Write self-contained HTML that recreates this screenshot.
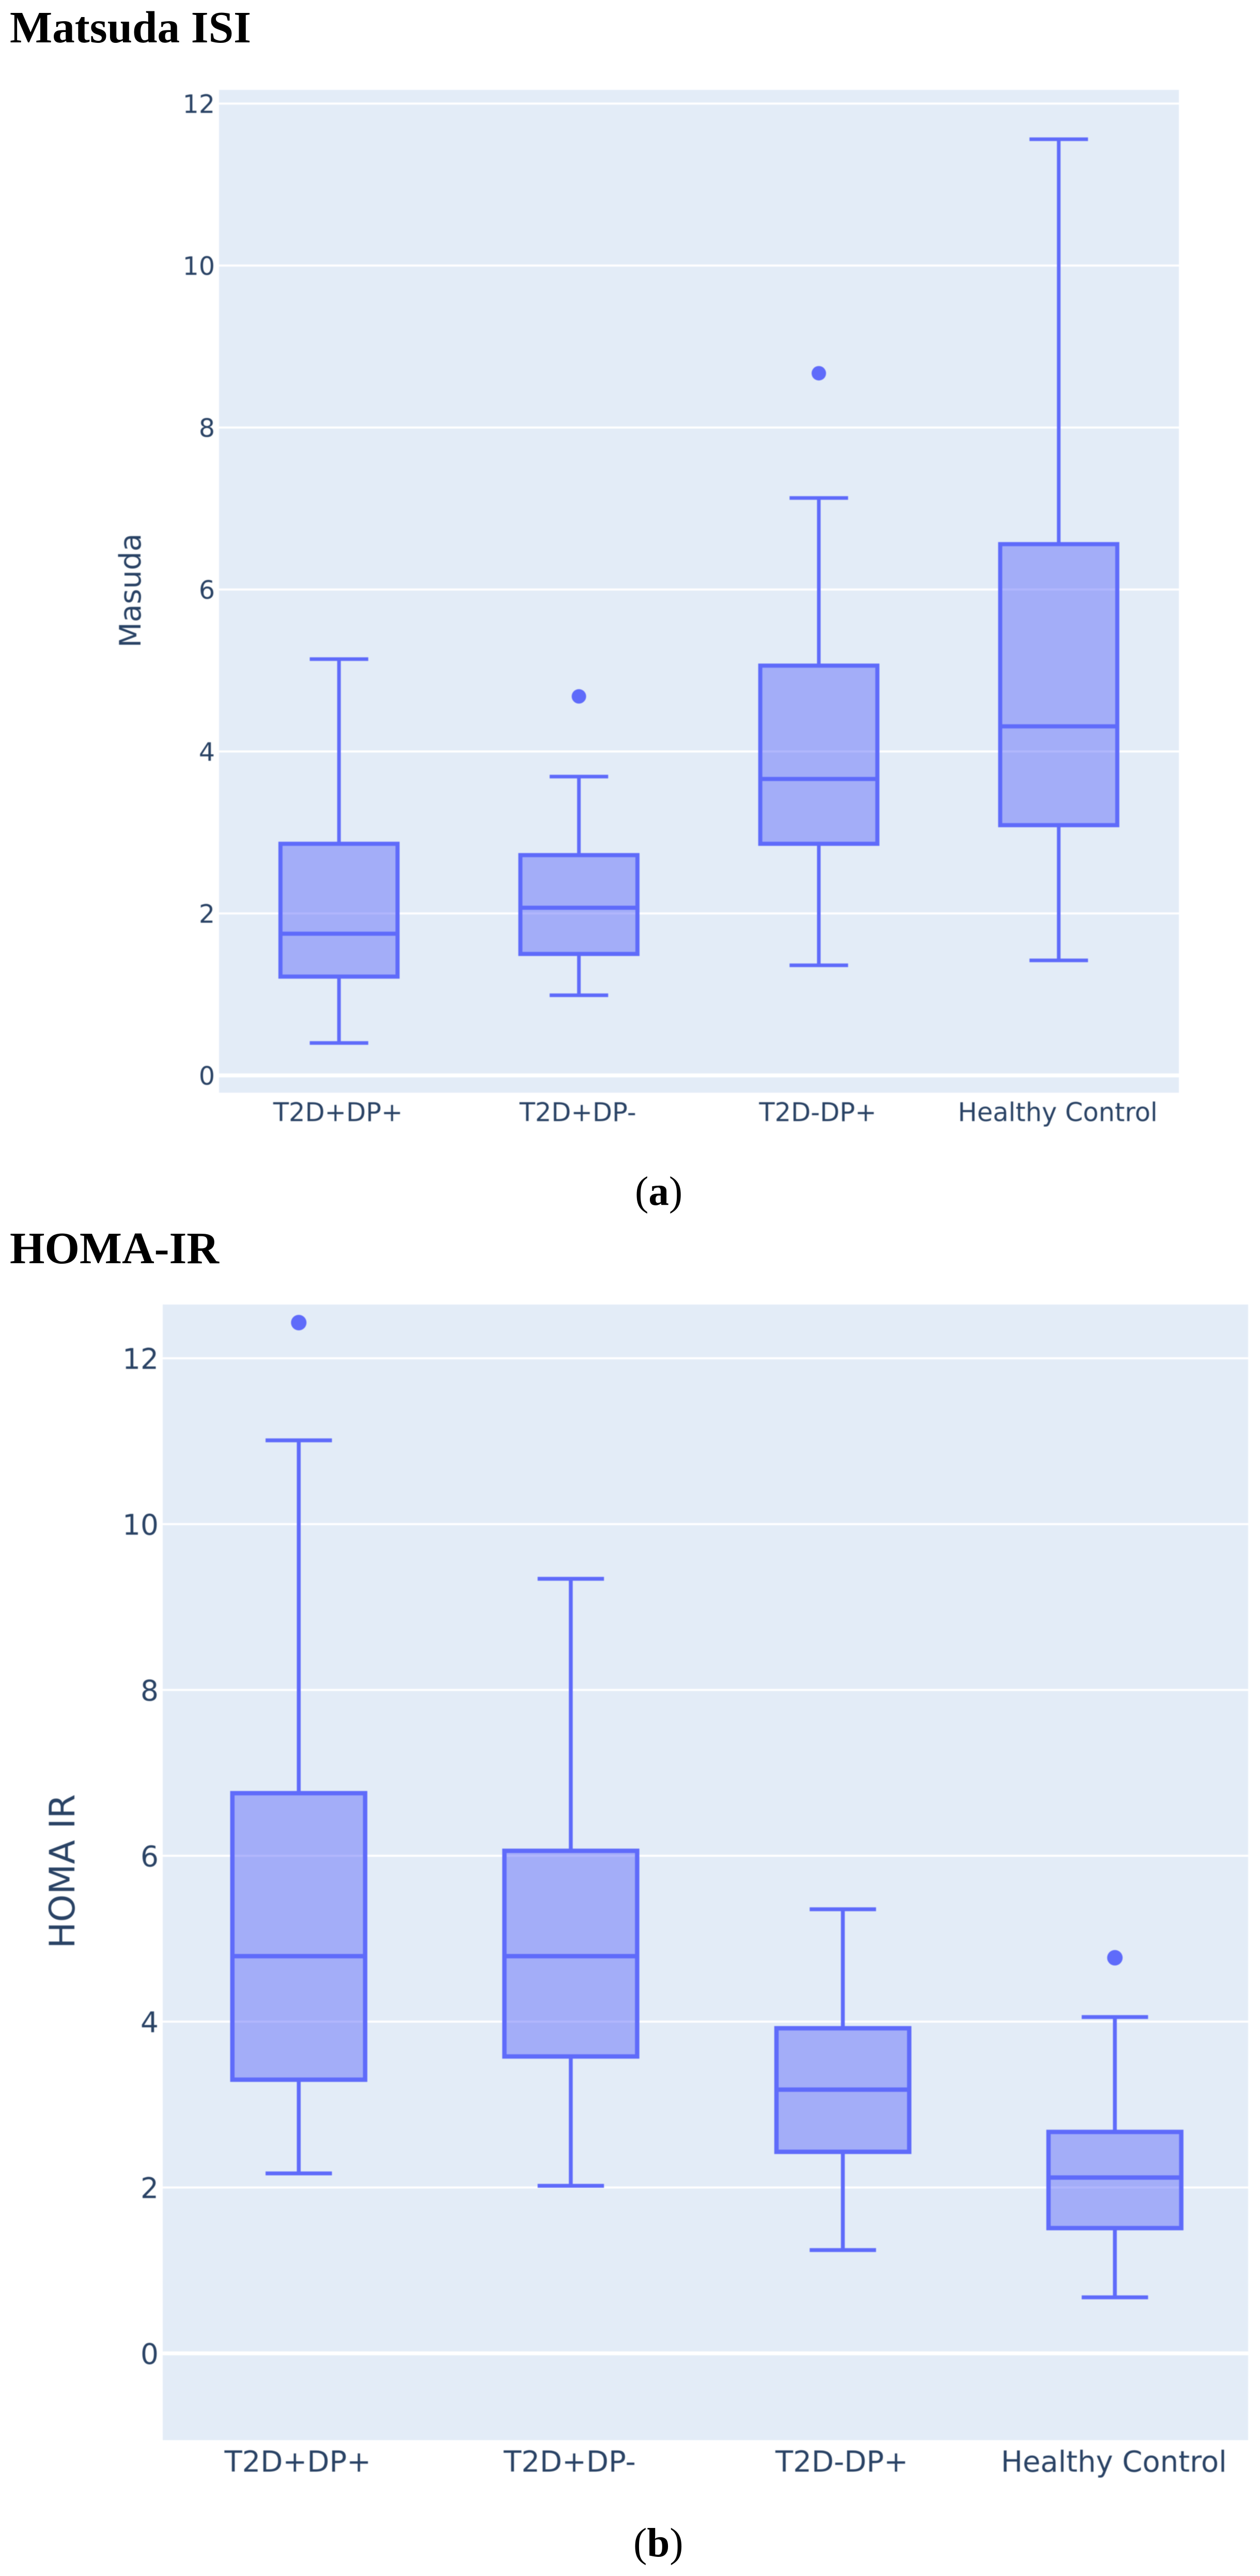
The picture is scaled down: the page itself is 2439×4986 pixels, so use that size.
<!DOCTYPE html>
<html lang="en">
<head>
<meta charset="utf-8">
<title>Matsuda ISI and HOMA-IR box plots</title>
<style>
html,body{margin:0;padding:0;background:#fff;width:2439px;height:4986px;overflow:hidden}
svg{display:block}
.serif{font-family:"Liberation Serif",serif;fill:#000}
.sans{font-family:"DejaVu Sans","Liberation Sans",sans-serif;fill:#2a4365}
.soft{filter:blur(0.7px)}
</style>
</head>
<body>
<svg id="figure" xmlns="http://www.w3.org/2000/svg" width="2439" height="4986" viewBox="0 0 2439 4986">
  <rect x="0" y="0" width="2439" height="4986" fill="#ffffff"/>
  <text class="serif" x="19" y="82" font-size="87" font-weight="700" textLength="467" lengthAdjust="spacingAndGlyphs">Matsuda ISI</text>
  <g id="chart-a" class="soft"></g>
  <text class="serif" x="1229" y="2332" font-size="79">(<tspan font-weight="700">a</tspan>)</text>
  <text class="serif" x="19" y="2445" font-size="87" font-weight="700" textLength="405" lengthAdjust="spacingAndGlyphs">HOMA-IR</text>
  <g id="chart-b" class="soft"></g>
  <text class="serif" x="1226" y="4948" font-size="79">(<tspan font-weight="700">b</tspan>)</text>
</svg>
<script>
var categories = ["T2D+DP+", "T2D+DP-", "T2D-DP+", "Healthy Control"];
var yTicks = [0, 2, 4, 6, 8, 10, 12];

var matsudaLow = [0.40, 0.99, 1.36, 1.42];
var matsudaQ1 = [1.22, 1.50, 2.86, 3.09];
var matsudaMedian = [1.75, 2.07, 3.66, 4.31];
var matsudaQ3 = [2.86, 2.72, 5.06, 6.56];
var matsudaHigh = [5.14, 3.69, 7.13, 11.56];
var matsudaOutliers = [null, 4.68, 8.67, null];

var homaLow = [2.17, 2.02, 1.245, 0.675];
var homaQ1 = [3.30, 3.58, 2.43, 1.51];
var homaMedian = [4.79, 4.79, 3.18, 2.12];
var homaQ3 = [6.755, 6.06, 3.92, 2.67];
var homaHigh = [11.01, 9.34, 5.355, 4.055];
var homaOutliers = [12.43, null, null, 4.77];

var SVG_NS = "http://www.w3.org/2000/svg";

function make(parent, tag, props) {
  var node = document.createElementNS(SVG_NS, tag);
  for (var key in props) {
    node.setAttribute(key, props[key]);
  }
  parent.appendChild(node);
  return node;
}

function slug(text) {
  return text.toLowerCase().replace(/\+/g, "-plus").replace(/-$/, "-minus").replace(/[^a-z0-9]+/g, "-");
}

function drawChart(root, layout, series) {
  function xScale(index) {
    return layout.left + (index + 0.5) * layout.step;
  }
  function yScale(value) {
    return layout.zeroY - value * layout.unit;
  }

  var plot = make(root, "rect", {
    x: layout.left, y: layout.top,
    width: layout.right - layout.left, height: layout.bottom - layout.top,
    fill: "#e3ecf7"
  });
  
  

  yTicks.forEach(function (tick) {
    var grid = make(root, "line", {
      x1: layout.left, x2: layout.right, y1: yScale(tick), y2: yScale(tick),
      stroke: "#ffffff", "stroke-width": tick === 0 ? 7.5 : 4
    });
    
    

    var label = make(root, "text", {
      x: layout.tickRight, y: yScale(tick) + layout.tickFont * 0.37,
      "text-anchor": "end", "font-size": layout.tickFont, "class": "sans"
    });
    label.textContent = String(tick);
    
    
  });

  categories.forEach(function (category, i) {
    var label = make(root, "text", {
      x: xScale(i) - 2, y: layout.xLabelY,
      "text-anchor": "middle", "font-size": layout.xFont, "class": "sans"
    });
    label.textContent = category;
    
    

    var group = make(root, "g", {});
    
    

    var cx = xScale(i);
    var halfBox = layout.step * 0.244;
    var halfCap = layout.step * 0.122;

    var upperWhisker = make(group, "line", {
      x1: cx, x2: cx, y1: yScale(series.q3[i]), y2: yScale(series.high[i]),
      stroke: "#5f6bfa", "stroke-width": layout.line
    });
    
    

    var lowerWhisker = make(group, "line", {
      x1: cx, x2: cx, y1: yScale(series.q1[i]), y2: yScale(series.low[i]),
      stroke: "#5f6bfa", "stroke-width": layout.line
    });
    
    

    var upperCap = make(group, "line", {
      x1: cx - halfCap, x2: cx + halfCap, y1: yScale(series.high[i]), y2: yScale(series.high[i]),
      stroke: "#5f6bfa", "stroke-width": layout.line
    });
    
    

    var lowerCap = make(group, "line", {
      x1: cx - halfCap, x2: cx + halfCap, y1: yScale(series.low[i]), y2: yScale(series.low[i]),
      stroke: "#5f6bfa", "stroke-width": layout.line
    });
    
    

    var box = make(group, "rect", {
      x: cx - halfBox, y: yScale(series.q3[i]),
      width: halfBox * 2, height: yScale(series.q1[i]) - yScale(series.q3[i]),
      fill: "rgba(99,110,250,0.5)", stroke: "#5f6bfa", "stroke-width": layout.line + 1
    });
    
    

    var median = make(group, "line", {
      x1: cx - halfBox, x2: cx + halfBox, y1: yScale(series.median[i]), y2: yScale(series.median[i]),
      stroke: "#5f6bfa", "stroke-width": layout.line + 1
    });
    
    

    if (series.outliers[i] !== null) {
      var dot = make(group, "circle", {
        cx: cx, cy: yScale(series.outliers[i]), r: layout.dot, fill: "#5f6bfa"
      });
      
      
    }
  });

  var yTitle = make(root, "text", {
    x: layout.titleX, y: layout.titleY,
    transform: "rotate(-90 " + layout.titleX + " " + layout.titleY + ")",
    "text-anchor": "middle", "font-size": layout.titleFont, "class": "sans"
  });
  yTitle.textContent = layout.yTitle;
  
  
}

drawChart(document.getElementById("chart-a"), {
  left: 424, right: 2282, top: 174, bottom: 2115,
  step: 464.4, zeroY: 2081.5, unit: 156.75,
  tickRight: 416, tickFont: 49, xFont: 49.5, xLabelY: 2170,
  titleX: 272, titleY: 1143, titleFont: 57, yTitle: "Masuda",
  line: 7, dot: 14
}, {
  low: matsudaLow, q1: matsudaQ1, median: matsudaMedian,
  q3: matsudaQ3, high: matsudaHigh, outliers: matsudaOutliers
});

drawChart(document.getElementById("chart-b"), {
  left: 315, right: 2416, top: 2525, bottom: 4723,
  step: 526.6, zeroY: 4555, unit: 160.5,
  tickRight: 307, tickFont: 55, xFont: 56, xLabelY: 4784,
  titleX: 144, titleY: 3622, titleFont: 68, yTitle: "HOMA IR",
  line: 7.5, dot: 15
}, {
  low: homaLow, q1: homaQ1, median: homaMedian,
  q3: homaQ3, high: homaHigh, outliers: homaOutliers
});
</script>
</body>
</html>
